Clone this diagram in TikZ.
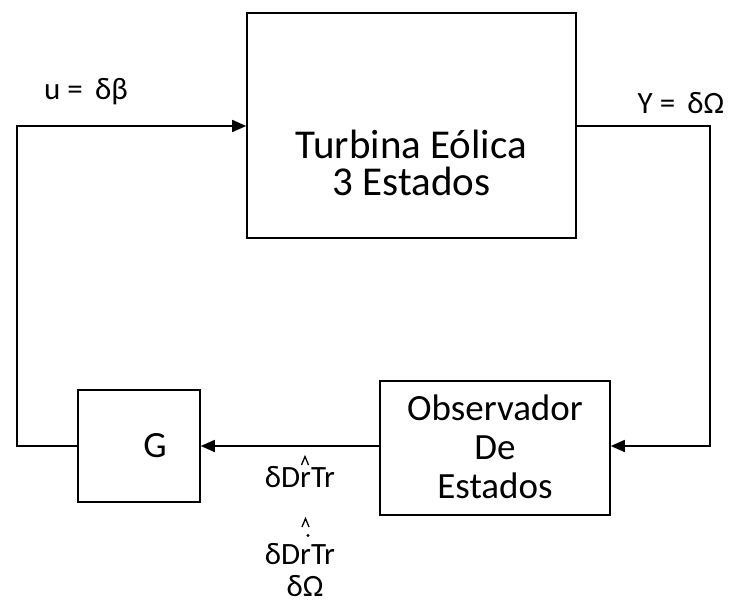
\documentclass[tikz,border=0pt]{standalone}
\usepackage{fontspec}
\setmainfont{Carlito}
\usetikzlibrary{arrows.meta}
\begin{document}
\begin{tikzpicture}[x=1pt,y=-1pt,
  blk/.style={draw,line width=1.6pt,inner sep=0pt},
  wire/.style={line width=1.6pt},
  arr/.style={wire,-{Triangle[length=14pt,width=12pt]}},
  big/.style={font=\fontsize{41}{37}\selectfont,inner sep=0pt},
  txt/.style={font=\fontsize{37}{39}\selectfont,inner sep=0pt},
  lbl/.style={font=\fontsize{31}{31}\selectfont,inner sep=0pt},
  hatline/.style={line width=1.3pt,line join=miter}]
\useasboundingbox (0,0) rectangle (736,604);
\node[blk,minimum width=329pt,minimum height=225pt] (tur) at (411.5,125.5) {};
\node[big,align=center] (turt) at (411.5,163) {Turbina Eólica\\3 Estados};
\node[blk,minimum width=122pt,minimum height=112pt] (g) at (139,446) {};
\node[txt] (gt) at (155,446) {G};
\node[blk,minimum width=230pt,minimum height=134pt] (obs) at (495,448) {};
\node[txt,align=center] (obst) at (495,447) {Observador\\De\\Estados};
\coordinate (tl) at (17,126);
\coordinate (bl) at (17,446);
\coordinate (tr) at (710,126);
\coordinate (br) at (710,446);
\draw[arr] (g.west |- bl) -- (bl) -- (tl) -- (tl -| tur.west);
\draw[arr] (tur.east |- tr) -- (tr) -- (br) -- (br -| obs.east);
\draw[arr] (obs.west |- br) -- (br -| g.east);
\node[lbl] (u) at (86,92) {u =\, δβ};
\node[lbl] (y) at (681,103) {Y =\, δΩ};
\node[lbl] (l1) at (300,477) {δDrTr};
\draw[hatline] (301.5,465) -- (305,456.5) -- (308.5,465);
\node[lbl] (l2) at (300,554) {δDrTr};
\draw[hatline] (302,527) -- (305.5,518.5) -- (309,527);
\node[circle,fill,inner sep=0pt,minimum size=3.2pt] (d2) at (308,535.5) {};
\node[lbl] (om) at (305,586) {δΩ};
\end{tikzpicture}
\end{document}
